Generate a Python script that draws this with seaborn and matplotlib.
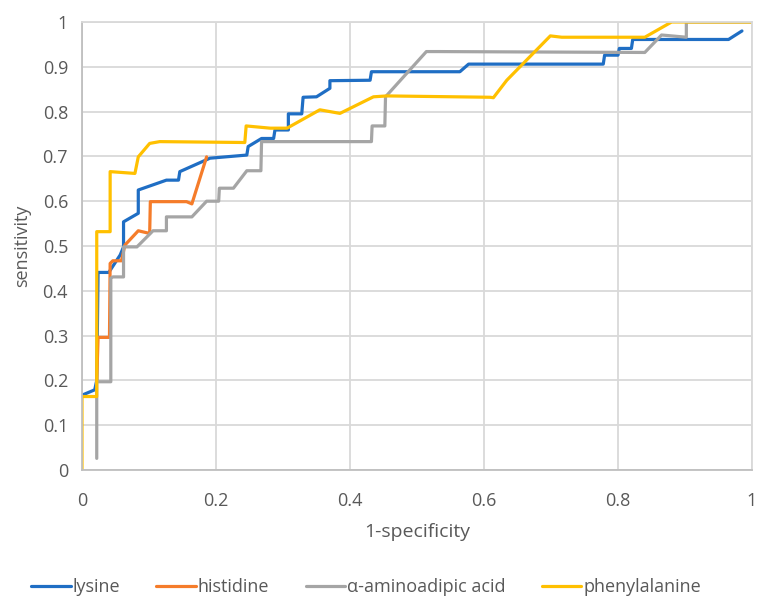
import matplotlib
matplotlib.use("Agg")
import matplotlib.pyplot as plt
import seaborn as sns
import pandas as pd

# ---- data ----
lysine_x = [0.0, 0.019, 0.022, 0.024, 0.04, 0.057, 0.062, 0.062, 0.084, 0.084,
            0.126, 0.144, 0.146, 0.191, 0.246, 0.248, 0.268, 0.286, 0.288, 0.308,
            0.308, 0.328, 0.330, 0.350, 0.370, 0.370, 0.430, 0.432, 0.564, 0.577,
            0.594, 0.778, 0.780, 0.800, 0.802, 0.820, 0.822, 0.965, 0.985]
lysine_y = [0.167, 0.179, 0.20, 0.441, 0.441, 0.48, 0.498, 0.554, 0.573, 0.625,
            0.647, 0.647, 0.666, 0.696, 0.703, 0.722, 0.740, 0.740, 0.759, 0.759,
            0.795, 0.795, 0.832, 0.833, 0.852, 0.869, 0.870, 0.889, 0.889, 0.906,
            0.906, 0.906, 0.926, 0.926, 0.941, 0.941, 0.961, 0.961, 0.980]

histidine_x = [0.022, 0.024, 0.041, 0.042, 0.046, 0.059, 0.064, 0.084, 0.101, 0.102,
               0.156, 0.164, 0.186]
histidine_y = [0.20, 0.296, 0.296, 0.461, 0.467, 0.467, 0.502, 0.534, 0.528, 0.599,
               0.599, 0.594, 0.699]

amino_x = [0.022, 0.022, 0.043, 0.043, 0.046, 0.062, 0.062, 0.082, 0.106, 0.126,
           0.126, 0.164, 0.186, 0.204, 0.205, 0.226, 0.246, 0.267, 0.268, 0.432,
           0.433, 0.452, 0.453, 0.514, 0.532, 0.840, 0.865, 0.902, 0.902, 1.0]
amino_y = [0.026, 0.197, 0.197, 0.428, 0.431, 0.431, 0.498, 0.498, 0.534, 0.534,
           0.565, 0.565, 0.600, 0.600, 0.629, 0.629, 0.668, 0.668, 0.733, 0.733,
           0.768, 0.768, 0.833, 0.934, 0.934, 0.932, 0.971, 0.966, 1.0, 1.0]

phenyl_x = [0.0, 0.0, 0.022, 0.022, 0.042, 0.042, 0.079, 0.084, 0.101, 0.116,
            0.243, 0.245, 0.281, 0.306, 0.355, 0.385, 0.435, 0.455, 0.609, 0.614,
            0.634, 0.699, 0.716, 0.840, 0.880, 1.0]
phenyl_y = [0.0, 0.164, 0.164, 0.532, 0.532, 0.666, 0.662, 0.699, 0.729, 0.733,
            0.731, 0.768, 0.763, 0.763, 0.804, 0.796, 0.833, 0.835, 0.832, 0.831,
            0.870, 0.969, 0.966, 0.966, 1.0, 1.0]

series = ["lysine", "histidine", "α-aminoadipic acid", "phenylalanine"]
colors = ["#1F6EC4", "#F57C2A", "#A5A5A5", "#FFC000"]
x_ticks = [0, 0.2, 0.4, 0.6, 0.8, 1]
x_tick_labels = ["0", "0.2", "0.4", "0.6", "0.8", "1"]
y_ticks = [0, 0.1, 0.2, 0.3, 0.4, 0.5, 0.6, 0.7, 0.8, 0.9, 1]
y_tick_labels = ["0", "0.1", "0.2", "0.3", "0.4", "0.5", "0.6", "0.7", "0.8", "0.9", "1"]

frames = []
for name, xs, ys in zip(series, [lysine_x, histidine_x, amino_x, phenyl_x],
                        [lysine_y, histidine_y, amino_y, phenyl_y]):
    frames.append(pd.DataFrame({"x": xs, "y": ys, "series": name}))
df = pd.concat(frames, ignore_index=True)

sns.set_style("white")
plt.rcParams["font.family"] = ["Open Sans", "DejaVu Sans"]

fig = plt.figure(figsize=(7.60, 5.99), dpi=100)
ax = fig.add_axes([82 / 760, (599 - 470) / 599, 670 / 760, 448 / 599])

sns.lineplot(data=df, x="x", y="y", hue="series", hue_order=series,
             palette=colors, sort=False, estimator=None, units="series",
             linewidth=2.3, ax=ax, legend=True)

ax.set_xlim(0, 1)
ax.set_ylim(0, 1)
ax.set_xticks(x_ticks)
ax.set_xticklabels(x_tick_labels)
ax.set_yticks(y_ticks)
ax.set_yticklabels(y_tick_labels)
ax.grid(True, color="#D9D9D9", linewidth=1.3)
ax.set_axisbelow(True)
for s in ["top", "right"]:
    ax.spines[s].set_color("#D9D9D9")
    ax.spines[s].set_linewidth(1.3)
for s in ["left", "bottom"]:
    ax.spines[s].set_color("#BFBFBF")
    ax.spines[s].set_linewidth(1.3)
ax.tick_params(axis="y", length=0, labelsize=13, colors="#595959", pad=10)
ax.tick_params(axis="x", length=0, labelsize=13, colors="#595959", pad=16)
ax.set_xlabel("1-specificity", fontsize=14, color="#595959", labelpad=9)
ax.set_ylabel("sensitivity", fontsize=13, color="#595959", labelpad=8)

handles, labels = ax.get_legend_handles_labels()
ax.legend(handles, labels, loc="lower center", bbox_to_anchor=(0.424, -0.318),
          ncol=4, frameon=False, fontsize=13, handlelength=2.2,
          columnspacing=2.0, handletextpad=0.1, labelcolor="#595959")

fig.savefig("out.png", dpi=100)
